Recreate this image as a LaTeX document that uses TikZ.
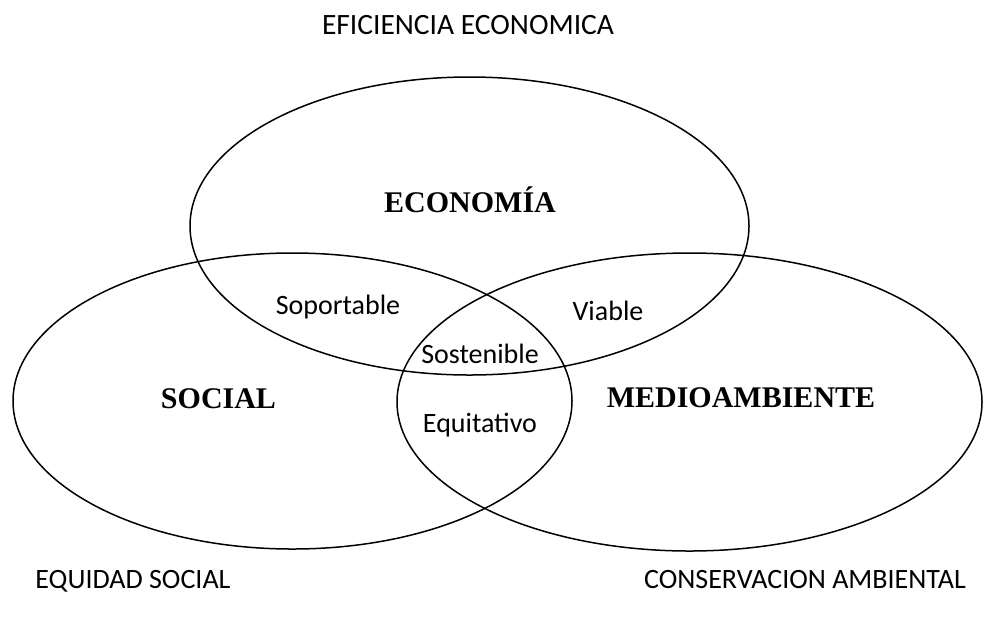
\documentclass[tikz,border=0pt]{standalone}
\usepackage{fontspec}
\setmainfont{Carlito}
\newfontfamily\headfont{Liberation Serif}
\begin{document}
\begin{tikzpicture}[x=1pt,y=-1pt,
  ring/.style={draw=black,line width=1.5pt},
  tag/.style={font=\fontsize{28}{28}\selectfont,anchor=base,inner sep=0pt},
  pillar/.style={font=\headfont\bfseries\fontsize{30}{30}\selectfont,anchor=base,inner sep=0pt}]
\useasboundingbox (0,0) rectangle (992,622);
% the three overlapping spheres
\draw[ring] (469.5,226) ellipse [x radius=279.5pt, y radius=149pt];
\draw[ring] (292.5,401) ellipse [x radius=279.5pt, y radius=148pt];
\draw[ring] (689.5,402) ellipse [x radius=292.5pt, y radius=149pt];
% sphere names
\node[pillar] (eco) at (470,212) {ECONOMÍA};
\node[pillar] (soc) at (218.5,408) {SOCIAL};
\node[pillar] (med) at (741,407) {MEDIOAMBIENTE};
% overlaps
\node[tag] (sop) at (338,314) {Soportable};
\node[tag] (via) at (608,320) {Viable};
\node[tag] (sos) at (480,363) {Sostenible};
\node[tag] (equ) at (480,432) {Equitativo};
% goals
\node[tag,font=\fontsize{29.5}{29.5}\selectfont] (efi) at (468,34) {EFICIENCIA ECONOMICA};
\node[tag] (eqs) at (133,588) {EQUIDAD SOCIAL};
\node[tag] (con) at (805,588) {CONSERVACION AMBIENTAL};
\end{tikzpicture}
\end{document}
